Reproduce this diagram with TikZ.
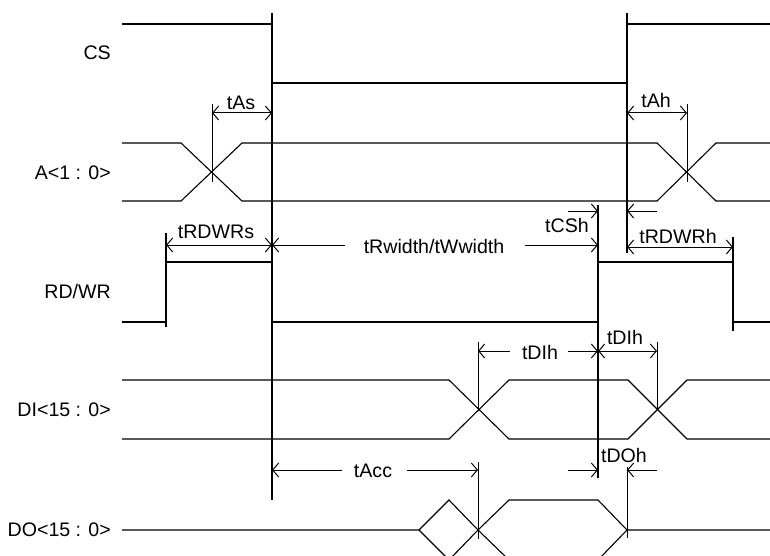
\documentclass[tikz,border=0pt]{standalone}
\usepackage{fontspec}
\setmainfont{Liberation Sans}
\usetikzlibrary{arrows.meta}
\tikzset{
  sig/.style={line width=1.1pt, line join=miter},
  dim/.style={line width=1.0pt},
  tip/.style={-{Straight Barb[length=6pt,width=14pt,line width=1pt]}},
  bitip/.style={{Straight Barb[length=6pt,width=14pt,line width=1pt]}-{Straight Barb[length=6pt,width=14pt,line width=1pt]}},
  lbl/.style={inner sep=0pt, font=\fontsize{19.6}{22}\selectfont},
  sname/.style={lbl, anchor=east}
}
\begin{document}
\begin{tikzpicture}[x=1pt,y=-1pt]
\clip (0,0) rectangle (770,556);
\fill[white] (0,0) rectangle (770,556);
% signal names
\node[sname] (nCS) at (111,53) {CS};
\node[sname] (nA) at (111,173) {A<1 : 0>};
\node[sname] (nRW) at (111,291) {RD/WR};
\node[sname] (nDI) at (111,410) {DI<15 : 0>};
\node[sname] (nDO) at (111,530) {DO<15 : 0>};
% main vertical references
\draw[sig] (272,13) -- (272,500);
\draw[sig] (627,13) -- (627,253);
\draw[sig] (598,205) -- (598,478);
% CS
\draw[sig] (122,24) -- (272,24);
\draw[sig] (272,83) -- (627,83);
\draw[sig] (627,24) -- (770,24);
% A<1:0>
\draw[sig] (122,143) -- (181,143) -- (242,201) -- (657,201) -- (716,143) -- (770,143);
\draw[sig] (122,201) -- (181,201) -- (242,143) -- (657,143) -- (716,201) -- (770,201);
% RD/WR
\draw[sig] (122,322) -- (166,322);
\draw[sig] (166,233) -- (166,327);
\draw[sig] (166,262) -- (272,262);
\draw[sig] (272,322) -- (598,322);
\draw[sig] (598,262) -- (733,262);
\draw[sig] (733,237) -- (733,331);
\draw[sig] (733,322) -- (770,322);
% DI<15:0>
\draw[sig] (122,380) -- (449,380) -- (509,439) -- (628,439) -- (687,380) -- (770,380);
\draw[sig] (122,439) -- (449,439) -- (509,380) -- (628,380) -- (687,439) -- (770,439);
% DO<15:0>
\draw[sig] (122,530) -- (419,530) -- (449,500) -- (478,530) -- (509,500) -- (598,500) -- (627,530) -- (770,530);
\draw[sig] (419,530) -- (449,560) -- (478,530) -- (509,560) -- (598,560) -- (627,530);
% extension lines
\draw[dim] (212,104) -- (212,182);
\draw[dim] (687,104) -- (687,182);
\draw[dim] (478,342) -- (478,410);
\draw[dim] (657,342) -- (657,410);
\draw[dim] (478,462) -- (478,539);
\draw[dim] (627,467) -- (627,538);
% dimension coordinates
\coordinate (tAsL) at (212,113); \coordinate (tAsR) at (272,113);
\coordinate (tAhL) at (627,113); \coordinate (tAhR) at (687,113);
\coordinate (tRsL) at (166,245); \coordinate (tRsR) at (272,245);
\coordinate (tWa) at (345,245); \coordinate (tWb) at (525,245); \coordinate (tWe) at (598,245);
\coordinate (tCa) at (568,211); \coordinate (tCe) at (598,211);
\coordinate (tCb) at (657,211); \coordinate (tCf) at (627,211);
\coordinate (tRhL) at (627,247); \coordinate (tRhR) at (733,247);
\coordinate (tD1a) at (510,351); \coordinate (tD1s) at (478,351);
\coordinate (tD1b) at (568,351); \coordinate (tD1e) at (598,351);
\coordinate (tD2R) at (657,351);
\coordinate (tAca) at (342,470); \coordinate (tAcs) at (272,470);
\coordinate (tAcb) at (407,470); \coordinate (tAce) at (478,470);
\coordinate (tOa) at (568,470); \coordinate (tOe) at (598,470);
\coordinate (tOb) at (657,470); \coordinate (tOf) at (627,470);
% dimension arrows
\draw[dim,bitip] (tAsL) -- (tAsR);
\draw[dim,bitip] (tAhL) -- (tAhR);
\draw[dim,bitip] (tRsL) -- (tRsR);
\draw[dim,tip] (tWa) -- (tRsR);
\draw[dim,tip] (tWb) -- (tWe);
\draw[dim,tip] (tCa) -- (tCe);
\draw[dim,tip] (tCb) -- (tCf);
\draw[dim,bitip] (tRhL) -- (tRhR);
\draw[dim,tip] (tD1a) -- (tD1s);
\draw[dim,tip] (tD1b) -- (tD1e);
\draw[dim,bitip] (tD1e) -- (tD2R);
\draw[dim,tip] (tAca) -- (tAcs);
\draw[dim,tip] (tAcb) -- (tAce);
\draw[dim,tip] (tOa) -- (tOe);
\draw[dim,tip] (tOb) -- (tOf);
% dimension labels
\node[lbl] (lAs) at (241,103) {tAs};
\node[lbl] (lAh) at (656,100) {tAh};
\node[lbl] (lRs) at (216,232) {tRDWRs};
\node[lbl] (lW) at (434,246) {tRwidth/tWwidth};
\node[lbl] (lCS) at (567,225) {tCSh};
\node[lbl] (lRh) at (678,236) {tRDWRh};
\node[lbl] (lD1) at (540,352) {tDIh};
\node[lbl] (lD2) at (625,337) {tDIh};
\node[lbl] (lAcc) at (373,471) {tAcc};
\node[lbl] (lDO) at (624,455) {tDOh};
\end{tikzpicture}
\end{document}
